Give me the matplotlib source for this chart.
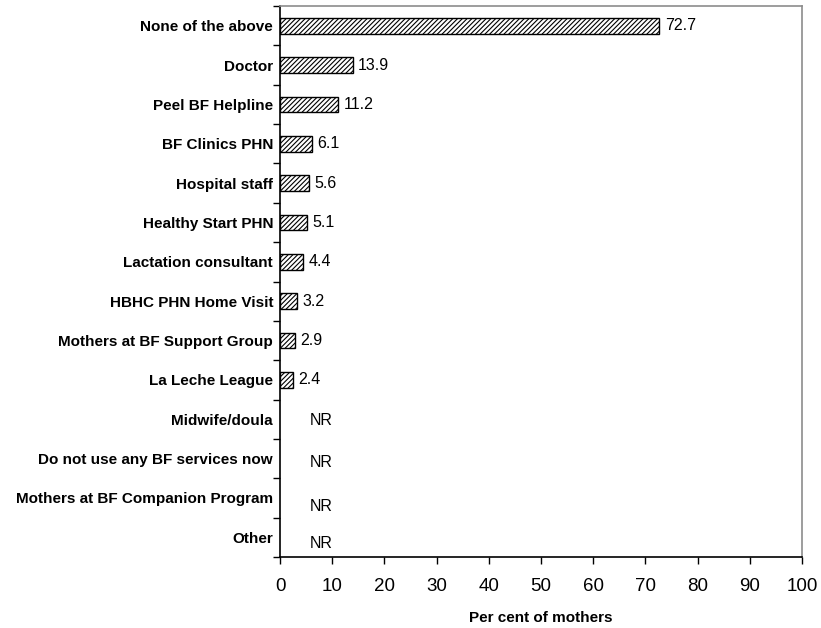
import matplotlib
matplotlib.use("Agg")
import matplotlib.pyplot as plt
import numpy as np

plt.rcParams['font.family'] = ['Liberation Sans', 'DejaVu Sans']
plt.rcParams['hatch.linewidth'] = 0.8

# Breastfeeding support sources (top to bottom)
categories = [
    "None of the above",
    "Doctor",
    "Peel BF Helpline",
    "BF Clinics PHN",
    "Hospital staff",
    "Healthy Start PHN",
    "Lactation consultant",
    "HBHC PHN Home Visit",
    "Mothers at BF Support Group",
    "La Leche League",
    "Midwife/doula",
    "Do not use any BF services now",
    "Mothers at BF Companion Program",
    "Other",
]
# Per cent of mothers; None = not reported
values = [72.7, 13.9, 11.2, 6.1, 5.6, 5.1, 4.4, 3.2, 2.9, 2.4, None, None, None, None]
xticks = [0, 10, 20, 30, 40, 50, 60, 70, 80, 90, 100]

fig = plt.figure(figsize=(8.21, 6.28), dpi=100)
ax = fig.add_axes([280 / 821, 1 - 557 / 628, (802 - 280) / 821, (557 - 6) / 628])

n = len(categories)
ypos = np.arange(n)
reported = [(y, v) for y, v in zip(ypos, values) if v is not None]
ax.barh([y for y, _ in reported], [v for _, v in reported], height=0.4,
        color="white", edgecolor="black", linewidth=1.0, hatch="///////")

for y, v in zip(ypos, values):
    if v is not None:
        ax.annotate(f"{v:.1f}", xy=(v, y), xytext=(4, 0), textcoords="offset points",
                    ha="left", va="center", fontsize=11.5)

# "NR" labels for categories with no reported value
nr_shift = [1.0, 3.0, 6.5, 4.5]
nr_rows = [y for y, v in zip(ypos, values) if v is None]
for y, dy in zip(nr_rows, nr_shift):
    ax.annotate("NR", xy=(5.7, y), xytext=(0, -dy), textcoords="offset points",
                ha="left", va="center", fontsize=11.5)

ax.set_xlim(0, 100)
ax.set_ylim(n - 0.5, -0.5)
ax.set_xticks(xticks)
ax.set_xticklabels([str(t) for t in xticks], fontsize=13.5)
ax.tick_params(axis="x", direction="out", length=5, width=1, pad=10)

ax.set_yticks(ypos)
ax.set_yticklabels(categories, fontsize=11, fontweight="bold")
ax.tick_params(axis="y", which="major", length=0, pad=5)
ax.set_yticks(np.arange(n + 1) - 0.5, minor=True)
ax.tick_params(axis="y", which="minor", direction="out", length=5, width=1)

ax.set_xlabel("Per cent of mothers", fontsize=11, fontweight="bold", labelpad=12)

for side in ("left", "bottom"):
    ax.spines[side].set_color("black")
    ax.spines[side].set_linewidth(1.2)
for side in ("top", "right"):
    ax.spines[side].set_color("#8c8c8c")
    ax.spines[side].set_linewidth(1.2)

fig.savefig("out.png", dpi=100)
